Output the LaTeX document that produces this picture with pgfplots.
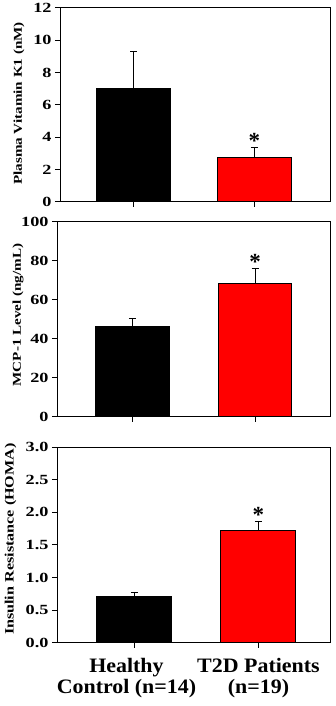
\documentclass[border=0pt]{standalone}
\usepackage{fontspec}
\setmainfont{Liberation Serif}
\usepackage{pgfplots}
\pgfplotsset{compat=1.18}
\newfontfamily\tickfam[FakeStretch=1.3]{Liberation Serif}
\newfontfamily\labfam[FakeStretch=1.26]{Liberation Serif}
\newfontfamily\xfam[FakeStretch=1.07]{Liberation Serif}
\newcommand\tickfont{\tickfam\bfseries\fontsize{14}{15}\selectfont}
\newcommand\labfont{\labfam\bfseries\fontsize{12}{13}\selectfont}
\newcommand\labfontb{\labfam\bfseries\fontsize{12.8}{13.5}\selectfont}
\newcommand\xfont{\xfam\bfseries\fontsize{20.5}{21}\selectfont}
\newcommand\astfont{\bfseries\fontsize{23}{23}\selectfont}
\begin{document}
\begin{tikzpicture}
\useasboundingbox (0,0) rectangle (336pt,706pt);
\pgfplotsset{
  panel/.style={
    scale only axis, anchor=south west,
    axis line style={line width=1pt}, every tick/.style={black, line width=1pt},
    tick align=outside, major tick length=5pt,
    xtick pos=bottom, ytick pos=left,
    xtick={1,2}, ymin=0,
    /pgf/number format/assume math mode=true,
    yticklabel style={font=\tickfont, xshift=0pt},
    ylabel style={anchor=center, font=\labfont},
    clip=false,
  },
  errs/.style={error bars/.cd, y dir=plus, y explicit,
    error bar style={black, line width=1pt},
    error mark options={black, rotate=90, mark size=3.5pt, line width=1pt}},
  ast/.style={draw=none, mark=none, nodes near coords={\astfont *},
    every node near coord/.style={anchor=base, inner sep=0pt, yshift=-1pt, black}},
}
% Panel 1
\begin{axis}[panel, at={(60pt,504pt)}, width=270pt, height=194pt,
  xmin=0.386, xmax=2.627, ymax=12, ytick={0,2,...,12},
  xticklabels={,},
  ylabel={Plasma Vitamin K1 (nM)},
  ylabel style={at={(axis description cs:-0.152,0.508)}}]
\addplot[ybar, bar width=0.614, bar shift=0pt, fill=black, draw=black, line width=1pt, errs]
  coordinates {(1,7.0) +- (0,2.3)};
\addplot[ybar, bar width=0.614, bar shift=0pt, fill=red, draw=black, line width=1pt, errs]
  coordinates {(2,2.75) +- (0,0.63)};
\addplot[ast] coordinates {(2,3.38)};
\end{axis}
% Panel 2
\begin{axis}[panel, at={(57pt,289pt)}, width=273pt, height=195pt,
  xmin=0.384, xmax=2.612, ymax=100, ytick={0,20,...,100},
  xticklabels={,},
  ylabel={MCP-1 Level (ng/mL)},
  ylabel style={at={(axis description cs:-0.143,0.523)}}]
\addplot[ybar, bar width=0.6, bar shift=0pt, fill=black, draw=black, line width=1pt, errs]
  coordinates {(1,46.2) +- (0,4.3)};
\addplot[ybar, bar width=0.6, bar shift=0pt, fill=red, draw=black, line width=1pt, errs]
  coordinates {(2,68.7) +- (0,7.7)};
\addplot[ast] coordinates {(2,76.4)};
\end{axis}
% Panel 3
\begin{axis}[panel, at={(57pt,63pt)}, width=273pt, height=196pt,
  xmin=0.375, xmax=2.577, ymax=3, ytick={0,0.5,...,3},
  yticklabel style={/pgf/number format/.cd, fixed, fixed zerofill, precision=1},
  xticklabels={{Healthy\hspace*{16pt}\\Control (n=14)\hspace*{16pt}},{T2D Patients\\(n=19)}},
  xticklabel style={font=\xfont, align=center, yshift=-7pt},
  ylabel={Insulin Resistance (HOMA)},
  ylabel style={at={(axis description cs:-0.170,0.53)}, font=\labfontb}]
\addplot[ybar, bar width=0.605, bar shift=0pt, fill=black, draw=black, line width=1pt, errs]
  coordinates {(1,0.71) +- (0,0.07)};
\addplot[ybar, bar width=0.605, bar shift=0pt, fill=red, draw=black, line width=1pt, errs]
  coordinates {(2,1.72) +- (0,0.14)};
\addplot[ast] coordinates {(2,1.86)};
\end{axis}
\end{tikzpicture}
\end{document}
